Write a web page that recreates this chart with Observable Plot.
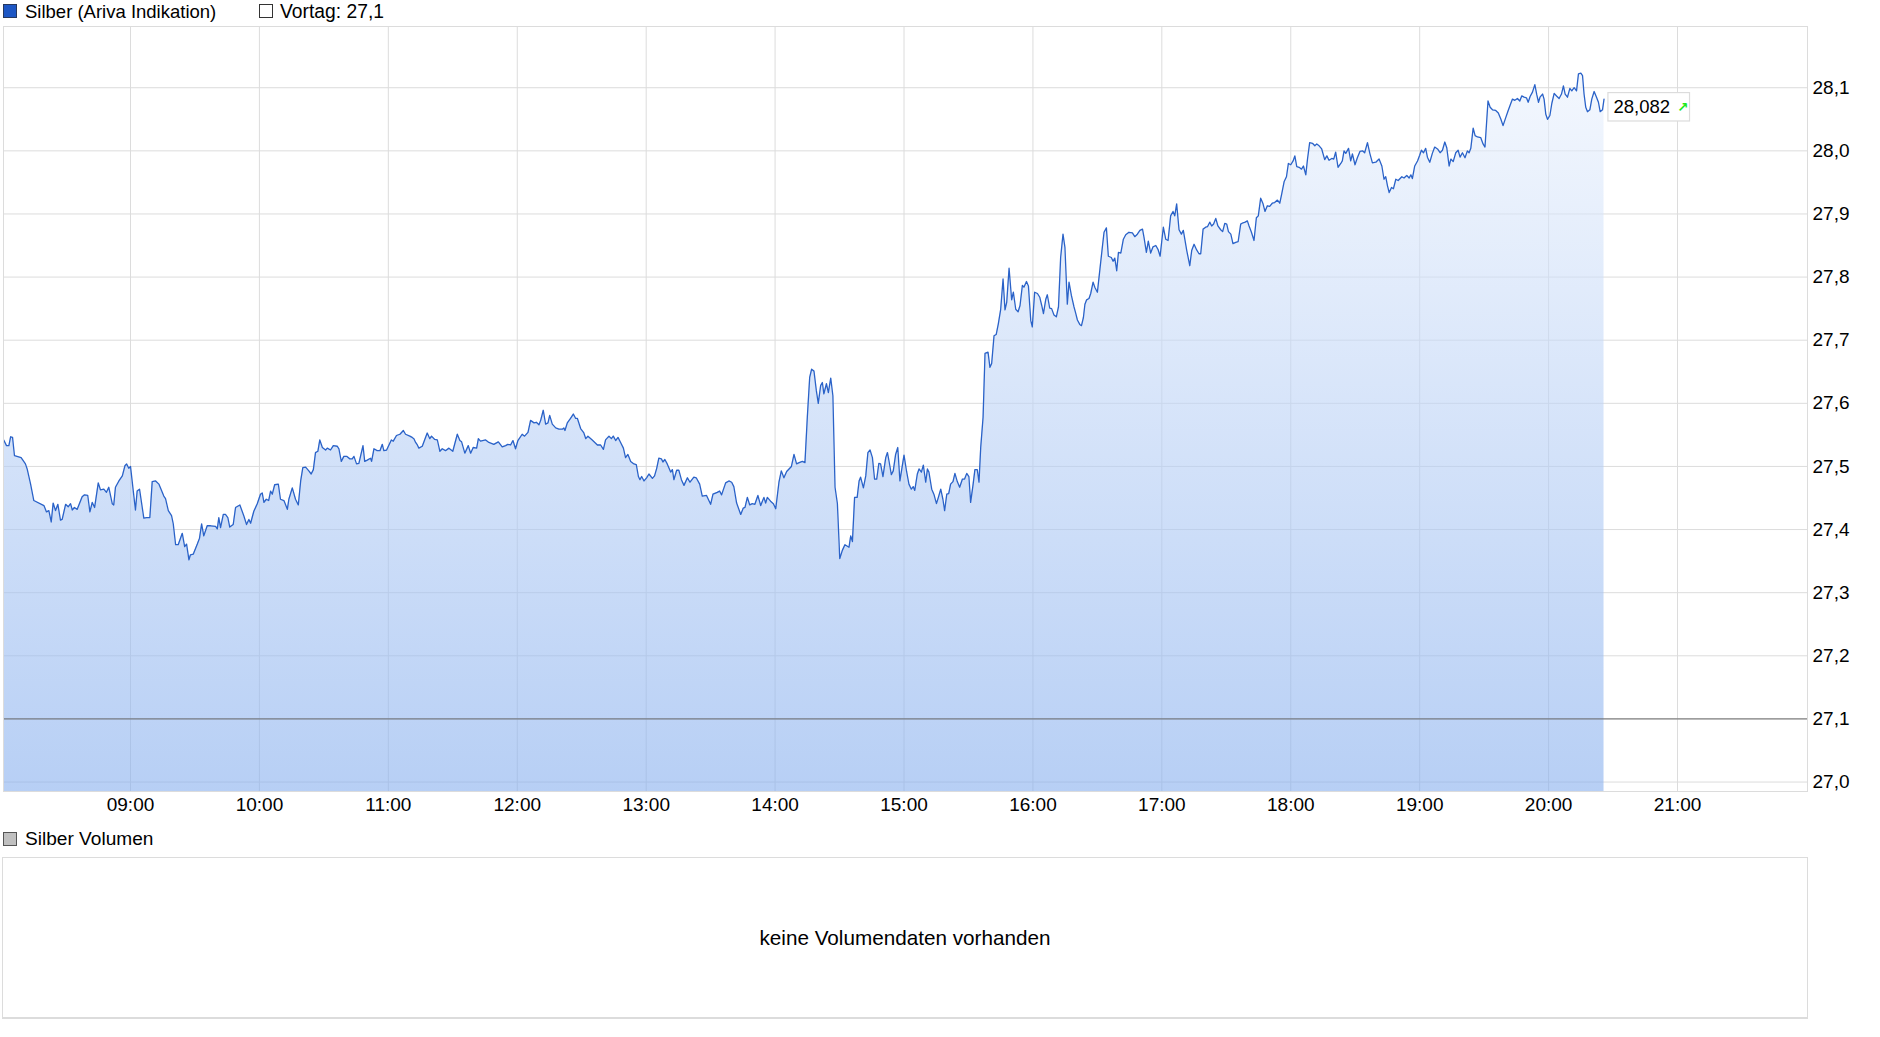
<!DOCTYPE html>
<html>
<head>
<meta charset="utf-8">
<script src="https://cdn.jsdelivr.net/npm/d3@7"></script>
<script src="https://cdn.jsdelivr.net/npm/@observablehq/plot@0.6"></script>
<style>
  html, body { margin: 0; padding: 0; background: #fff; overflow: hidden; }
  body { font-family: "Liberation Sans", Arial, sans-serif; color: #000; }
  #page { position: relative; width: 1880px; height: 1037px; }
  .leg { position: absolute; font-size: 18.5px; line-height: 22px; white-space: nowrap; }
  .sw { position: absolute; box-sizing: border-box; width: 14px; height: 14px; }
  #chart { position: absolute; left: 0; top: 24px; }
  #vol { position: absolute; left: 2px; top: 857px; width: 1806px; height: 162px; box-sizing: border-box;
         border: 1px solid #dcdcdc; border-bottom-width: 2px; display: flex; align-items: center; justify-content: center;
         font-size: 20.7px; }
</style>
</head>
<body>
<div id="page">
  <div class="sw" style="left:3px;top:4px;background:#1d57c4;border:1px solid #26385e;"></div>
  <div class="leg" style="left:25px;top:1px;">Silber (Ariva Indikation)</div>
  <div class="sw" style="left:259px;top:4px;background:#fff;border:1px solid #333;"></div>
  <div class="leg" style="left:280px;top:1px;font-size:19.3px;">Vortag: 27,1</div>
  <div id="chart"></div>
  <div class="sw" style="left:3px;top:832px;background:#c0c0c0;border:1px solid #555;"></div>
  <div class="leg" style="left:25px;top:828px;font-size:19.1px;">Silber Volumen</div>
  <div id="vol">keine Volumendaten vorhanden</div>
</div>
<script>
// Minutes after 08:00 (Silber, Ariva Indikation, intraday)
const minutesAfter8 = [
  1.0,2.3,3.4,4.2,5.1,6.0,9.1,11.1,11.9,13.5,
  15.0,19.7,20.9,22.0,23.1,24.0,25.1,26.2,27.4,28.2,
  29.8,31.0,32.1,32.9,33.9,35.2,37.5,38.6,40.1,41.1,
  42.2,43.3,45.0,46.0,47.6,48.8,49.9,51.5,52.2,53.0,
  54.6,56.2,57.4,58.2,59.2,60.0,61.3,62.3,63.1,64.2,
  66.2,67.5,69.0,70.1,71.7,73.2,75.5,76.3,77.6,79.1,
  79.9,81.0,82.2,84.1,85.2,86.1,87.2,87.9,89.2,91.1,
  92.1,93.1,94.1,95.7,97.3,99.6,100.4,101.1,101.9,103.2,
  104.2,105.3,106.2,107.8,108.9,110.9,112.8,114.0,115.1,115.9,
  117.4,119.0,120.5,121.3,122.1,123.2,124.3,125.2,126.0,127.1,
  128.8,129.8,131.4,133.0,133.7,135.3,136.8,138.1,139.2,140.2,
  141.5,143.0,144.1,145.1,146.1,147.2,148.1,149.3,150.8,151.6,
  153.1,154.4,156.2,157.0,158.1,159.3,160.6,162.1,163.2,164.0,
  165.2,166.3,168.2,169.0,170.2,171.7,172.2,173.3,174.8,176.1,
  177.2,177.9,179.2,181.4,182.3,183.8,185.4,187.0,188.0,190.0,
  191.1,191.9,192.7,193.5,194.2,195.8,198.1,199.3,200.1,201.5,
  202.8,204.0,205.1,206.6,208.2,210.0,212.1,213.3,214.1,215.6,
  217.2,218.3,219.5,221.1,221.9,222.9,225.3,226.8,229.1,231.2,
  233.0,234.6,235.6,236.9,238.0,239.2,240.3,242.3,243.4,245.0,
  246.2,247.8,248.9,250.1,250.9,252.1,253.2,254.3,255.1,256.3,
  257.9,259.4,261.0,261.7,262.2,263.3,264.8,266.1,267.2,268.0,
  269.5,271.0,271.9,272.9,274.9,277.3,278.8,280.1,281.1,282.7,
  283.8,284.7,285.8,286.9,288.1,289.4,290.4,291.5,292.8,294.3,
  295.4,296.4,297.1,297.9,299.0,300.2,301.3,302.9,303.9,304.9,
  305.9,307.1,307.8,308.7,309.8,311.4,312.2,312.9,314.2,315.2,
  316.4,317.6,319.2,320.4,322.2,323.3,324.9,326.1,328.1,330.0,
  331.1,333.1,334.2,335.1,337.0,338.5,339.8,340.8,342.1,344.0,
  345.2,346.0,347.1,348.2,349.4,350.6,352.0,353.3,354.8,355.6,
  356.4,357.9,359.2,360.3,361.8,362.9,364.1,365.4,367.6,368.8,
  370.0,371.2,372.7,373.9,375.0,376.1,377.0,378.1,379.2,380.1,
  381.2,382.0,382.7,383.9,384.8,385.9,386.9,387.9,389.0,390.1,
  391.3,392.5,394.4,395.2,396.0,397.0,398.2,399.1,399.8,401.1,
  402.2,403.2,404.2,405.3,406.3,407.3,408.3,409.1,410.2,411.5,
  412.3,413.0,414.1,415.0,416.1,417.1,418.1,419.2,420.0,421.2,
  422.3,423.4,424.3,425.0,426.2,427.0,428.1,429.0,430.1,430.9,
  431.6,432.9,434.0,435.1,436.0,437.1,438.1,438.9,439.9,440.8,
  441.7,442.8,443.7,444.8,445.9,447.2,448.2,449.2,450.2,451.0,
  452.1,453.0,454.1,454.9,455.7,456.8,457.7,459.1,460.0,460.8,
  461.9,462.9,463.9,465.0,466.1,467.0,467.8,468.9,470.1,470.9,
  472.0,473.1,474.0,475.1,475.8,477.0,477.9,479.0,479.7,480.8,
  482.1,483.2,484.1,484.9,486.0,486.7,487.8,488.7,489.8,490.9,
  491.9,492.9,494.0,494.9,496.0,496.8,497.9,499.1,499.9,500.7,
  501.8,502.6,503.5,504.2,505.0,506.1,506.9,508.0,508.8,510.0,
  511.2,512.3,513.1,514.2,515.1,516.5,517.3,518.1,519.0,519.8,
  520.9,522.1,523.2,524.7,526.3,527.4,528.6,529.8,531.0,531.7,
  532.8,533.7,534.8,535.9,537.2,538.2,539.2,540.0,540.7,541.8,
  542.9,544.1,545.2,546.0,546.9,548.0,549.1,550.0,551.6,553.0,
  553.9,555.0,556.2,557.3,558.1,559.2,560.4,561.3,562.3,563.2,
  564.1,565.1,566.1,567.4,568.3,569.3,570.2,571.0,572.1,573.1,
  574.4,575.5,576.7,577.8,578.8,579.8,580.6,581.7,582.9,584.0,
  584.9,586.0,587.1,588.0,589.1,590.2,591.4,592.5,593.8,594.9,
  595.8,596.9,598.0,598.9,600.0,601.1,601.9,602.8,603.9,605.0,
  605.9,607.0,607.8,608.8,610.1,611.2,612.1,613.2,614.4,615.8,
  616.8,617.8,619.1,620.0,620.9,622.0,623.3,624.0,624.8,625.6,
  626.9,627.9,628.7,629.9,631.0,632.2,633.4,634.4,635.7,636.8,
  638.0,639.6,641.1,642.4,643.4,644.2,645.0,645.8,646.9,647.8,
  648.9,650.0,651.7,652.7,654.0,655.1,655.9,656.6,657.7,659.0,
  660.0,660.8,661.8,662.8,663.6,664.7,665.9,667.0,668.3,669.5,
  670.6,671.7,672.6,673.7,674.5,675.6,676.8,677.9,678.8,679.9,
  681.1,682.2,683.0,683.8,684.9,685.8,686.9,688.4,689.5,690.4,
  691.8,692.8,693.9,695.4,696.6,697.8,698.8,700.1,701.2,702.4,
  703.2,704.3,705.5,706.6,707.5,708.6,709.7,710.5,711.4,712.5,
  713.6,714.5,715.3,716.0,717.2,717.9,718.7,719.5,720.6,721.5,
  722.6,723.7,724.9,726.0,726.9,727.7,728.8,729.9,730.8,731.9,
  733.0,733.9,735.0,735.8,736.5,737.3,738.1,739.2,740.1,741.2,
  742.3,743.2,744.0,745.1,745.8
];
const price = [
  27.542,27.533,27.533,27.547,27.546,27.517,27.514,27.504,27.496,27.472,
  27.446,27.438,27.428,27.430,27.412,27.442,27.430,27.440,27.415,27.416,
  27.440,27.436,27.441,27.431,27.435,27.432,27.452,27.455,27.454,27.428,
  27.443,27.435,27.474,27.463,27.464,27.459,27.467,27.441,27.439,27.467,
  27.477,27.485,27.501,27.504,27.497,27.500,27.461,27.431,27.461,27.464,
  27.418,27.419,27.419,27.476,27.477,27.472,27.453,27.449,27.430,27.422,
  27.409,27.376,27.376,27.394,27.373,27.377,27.352,27.360,27.361,27.377,
  27.386,27.409,27.390,27.406,27.406,27.405,27.401,27.419,27.403,27.424,
  27.424,27.419,27.404,27.408,27.435,27.439,27.421,27.408,27.416,27.410,
  27.429,27.441,27.456,27.458,27.443,27.448,27.446,27.461,27.456,27.471,
  27.472,27.448,27.446,27.432,27.448,27.466,27.448,27.439,27.477,27.498,
  27.499,27.493,27.488,27.495,27.522,27.524,27.542,27.530,27.526,27.529,
  27.526,27.533,27.532,27.528,27.508,27.516,27.516,27.512,27.512,27.516,
  27.504,27.505,27.533,27.508,27.510,27.513,27.508,27.528,27.525,27.525,
  27.535,27.525,27.526,27.542,27.540,27.549,27.551,27.557,27.551,27.548,
  27.546,27.544,27.538,27.534,27.529,27.532,27.553,27.544,27.548,27.543,
  27.542,27.524,27.528,27.525,27.529,27.524,27.551,27.541,27.539,27.521,
  27.533,27.521,27.530,27.529,27.544,27.540,27.542,27.538,27.535,27.539,
  27.531,27.533,27.535,27.534,27.541,27.528,27.541,27.551,27.548,27.554,
  27.573,27.569,27.570,27.566,27.573,27.589,27.567,27.569,27.581,27.567,
  27.561,27.559,27.559,27.561,27.557,27.569,27.576,27.583,27.576,27.576,
  27.560,27.553,27.544,27.548,27.542,27.534,27.534,27.527,27.542,27.548,
  27.544,27.548,27.541,27.546,27.538,27.529,27.514,27.519,27.508,27.504,
  27.503,27.484,27.479,27.484,27.477,27.482,27.488,27.481,27.485,27.497,
  27.513,27.512,27.507,27.511,27.504,27.491,27.495,27.479,27.494,27.494,
  27.479,27.470,27.482,27.475,27.483,27.482,27.472,27.453,27.454,27.440,
  27.456,27.459,27.461,27.455,27.474,27.477,27.475,27.468,27.442,27.424,
  27.434,27.435,27.451,27.439,27.441,27.440,27.454,27.438,27.451,27.442,
  27.451,27.445,27.441,27.433,27.475,27.493,27.482,27.492,27.500,27.519,
  27.504,27.506,27.508,27.506,27.578,27.641,27.654,27.651,27.620,27.600,
  27.628,27.633,27.615,27.631,27.617,27.640,27.612,27.467,27.441,27.354,
  27.367,27.376,27.372,27.390,27.381,27.451,27.451,27.477,27.483,27.466,
  27.485,27.522,27.526,27.514,27.480,27.480,27.505,27.504,27.484,27.514,
  27.522,27.509,27.487,27.493,27.519,27.530,27.477,27.501,27.518,27.492,
  27.472,27.464,27.468,27.462,27.488,27.496,27.491,27.502,27.475,27.496,
  27.491,27.464,27.455,27.441,27.451,27.464,27.448,27.430,27.456,27.457,
  27.472,27.476,27.489,27.476,27.467,27.480,27.480,27.489,27.484,27.443,
  27.470,27.495,27.495,27.475,27.530,27.578,27.679,27.681,27.657,27.663,
  27.707,27.709,27.726,27.749,27.797,27.748,27.760,27.814,27.764,27.776,
  27.749,27.745,27.755,27.787,27.784,27.793,27.786,27.731,27.721,27.776,
  27.774,27.768,27.755,27.742,27.765,27.772,27.751,27.750,27.740,27.737,
  27.753,27.831,27.868,27.847,27.757,27.792,27.771,27.753,27.743,27.732,
  27.725,27.723,27.736,27.757,27.764,27.766,27.774,27.792,27.784,27.776,
  27.813,27.847,27.871,27.878,27.833,27.831,27.825,27.830,27.810,27.839,
  27.838,27.860,27.867,27.871,27.870,27.864,27.868,27.874,27.876,27.863,
  27.839,27.857,27.838,27.848,27.850,27.844,27.833,27.858,27.879,27.860,
  27.858,27.897,27.904,27.897,27.916,27.875,27.868,27.874,27.842,27.818,
  27.842,27.852,27.843,27.837,27.837,27.876,27.879,27.880,27.887,27.881,
  27.884,27.893,27.881,27.875,27.872,27.885,27.884,27.872,27.868,27.853,
  27.855,27.856,27.884,27.886,27.887,27.889,27.881,27.871,27.858,27.894,
  27.897,27.925,27.916,27.904,27.913,27.912,27.917,27.918,27.922,27.917,
  27.932,27.951,27.959,27.980,27.978,27.984,27.992,27.975,27.974,27.971,
  27.976,27.962,27.987,28.013,28.012,28.008,28.011,28.008,28.003,27.986,
  27.992,27.985,27.988,27.987,27.998,27.974,27.980,27.984,28.000,27.996,
  28.004,27.984,27.995,27.978,27.989,27.999,28.000,27.997,28.013,27.996,
  27.981,27.982,27.987,27.976,27.955,27.959,27.945,27.934,27.942,27.940,
  27.955,27.953,27.959,27.957,27.961,27.957,27.962,27.956,27.976,27.984,
  27.993,28.001,27.997,28.004,27.990,27.982,27.996,28.006,28.003,27.997,
  28.001,28.014,28.005,27.976,27.987,27.983,27.997,28.001,27.990,27.997,
  27.989,28.000,27.997,28.004,28.036,28.024,28.022,28.021,28.011,28.006,
  28.079,28.069,28.065,28.064,28.060,28.050,28.040,28.053,28.064,28.075,
  28.082,28.080,28.083,28.079,28.087,28.085,28.084,28.077,28.086,28.093,
  28.105,28.089,28.077,28.085,28.090,28.082,28.058,28.050,28.056,28.075,
  28.091,28.087,28.083,28.090,28.103,28.090,28.085,28.099,28.095,28.100,
  28.095,28.122,28.123,28.119,28.090,28.069,28.062,28.065,28.082,28.094,
  28.085,28.077,28.062,28.065,28.082
];
const hourLabels = ["09:00","10:00","11:00","12:00","13:00","14:00","15:00","16:00","17:00","18:00","19:00","20:00","21:00"];
const yTicks = [27.0, 27.1, 27.2, 27.3, 27.4, 27.5, 27.6, 27.7, 27.8, 27.9, 28.0, 28.1];
const previousClose = 27.1;
const lastPriceLabel = "28,082";

const data = minutesAfter8.map((m, i) => ({m, p: price[i]}));
const last = data[data.length - 1];
const xTicks = hourLabels.map(h => (parseInt(h.slice(0, 2), 10) - 8) * 60);
const yDomain = [26.985, 28.197];
const fmtY = v => v.toFixed(1).replace(".", ",");

const defsMark = () => {
  const defs = d3.create("svg:defs");
  const g = defs.append("linearGradient").attr("id", "silverFill")
    .attr("x1", 0).attr("y1", 0).attr("x2", 0).attr("y2", 1);
  g.append("stop").attr("offset", "0%").attr("stop-color", "#ebf2fd");
  g.append("stop").attr("offset", "100%").attr("stop-color", "#87afee");
  return defs.node();
};
const labelBox = (index, scales) => {
  const px = scales.x(last.m), py = scales.y(last.p);
  return d3.create("svg:rect")
    .attr("x", px + 4.4).attr("y", py - 6)
    .attr("width", 81.6).attr("height", 28.4)
    .attr("fill", "#fff").attr("stroke", "#dcdcdc").attr("stroke-width", 1.2)
    .node();
};

const chart = Plot.plot({
  width: 1880,
  height: 800,
  marginTop: 2,
  marginBottom: 33,
  marginLeft: 3,
  marginRight: 73,
  style: {fontFamily: "'Liberation Sans', Arial, sans-serif", fontSize: "19px", color: "#000", background: "#fff", overflow: "visible"},
  x: {type: "linear", domain: [0.89, 840.5]},
  y: {domain: yDomain},
  marks: [
    defsMark,
    Plot.gridY(yTicks, {stroke: "#dcdcdc", strokeOpacity: 1}),
    Plot.gridX(xTicks, {stroke: "#dcdcdc", strokeOpacity: 1}),
    Plot.areaY(data, {x: "m", y1: yDomain[0], y2: "p", fill: "url(#silverFill)", fillOpacity: 0.6}),
    Plot.ruleY([previousClose], {stroke: "#6a6a6a", strokeWidth: 1}),
    Plot.lineY(data, {x: "m", y: "p", stroke: "#2a62c8", strokeWidth: 1.3}),
    Plot.frame({stroke: "#dcdcdc"}),
    Plot.axisX(xTicks, {tickSize: 0, tickPadding: 6, label: null, fontSize: 19,
      tickFormat: d => hourLabels[xTicks.indexOf(d)]}),
    Plot.axisY(yTicks, {anchor: "right", tickSize: 0, tickPadding: 5, label: null, fontSize: 19,
      tickFormat: fmtY}),
    labelBox,
    Plot.text([last], {x: "m", y: "p", text: () => lastPriceLabel, dx: 9.4, dy: 8,
      textAnchor: "start", fontSize: 18.5, fill: "#000"}),
    Plot.text([last], {x: "m", y: "p", text: () => "\u2197", dx: 73, dy: 9,
      textAnchor: "start", fontSize: 13.5, fontWeight: "bold", fill: "#1ee81e",
      fontFamily: "DejaVu Sans"})
  ]
});
document.getElementById("chart").appendChild(chart);
</script>
</body>
</html>
